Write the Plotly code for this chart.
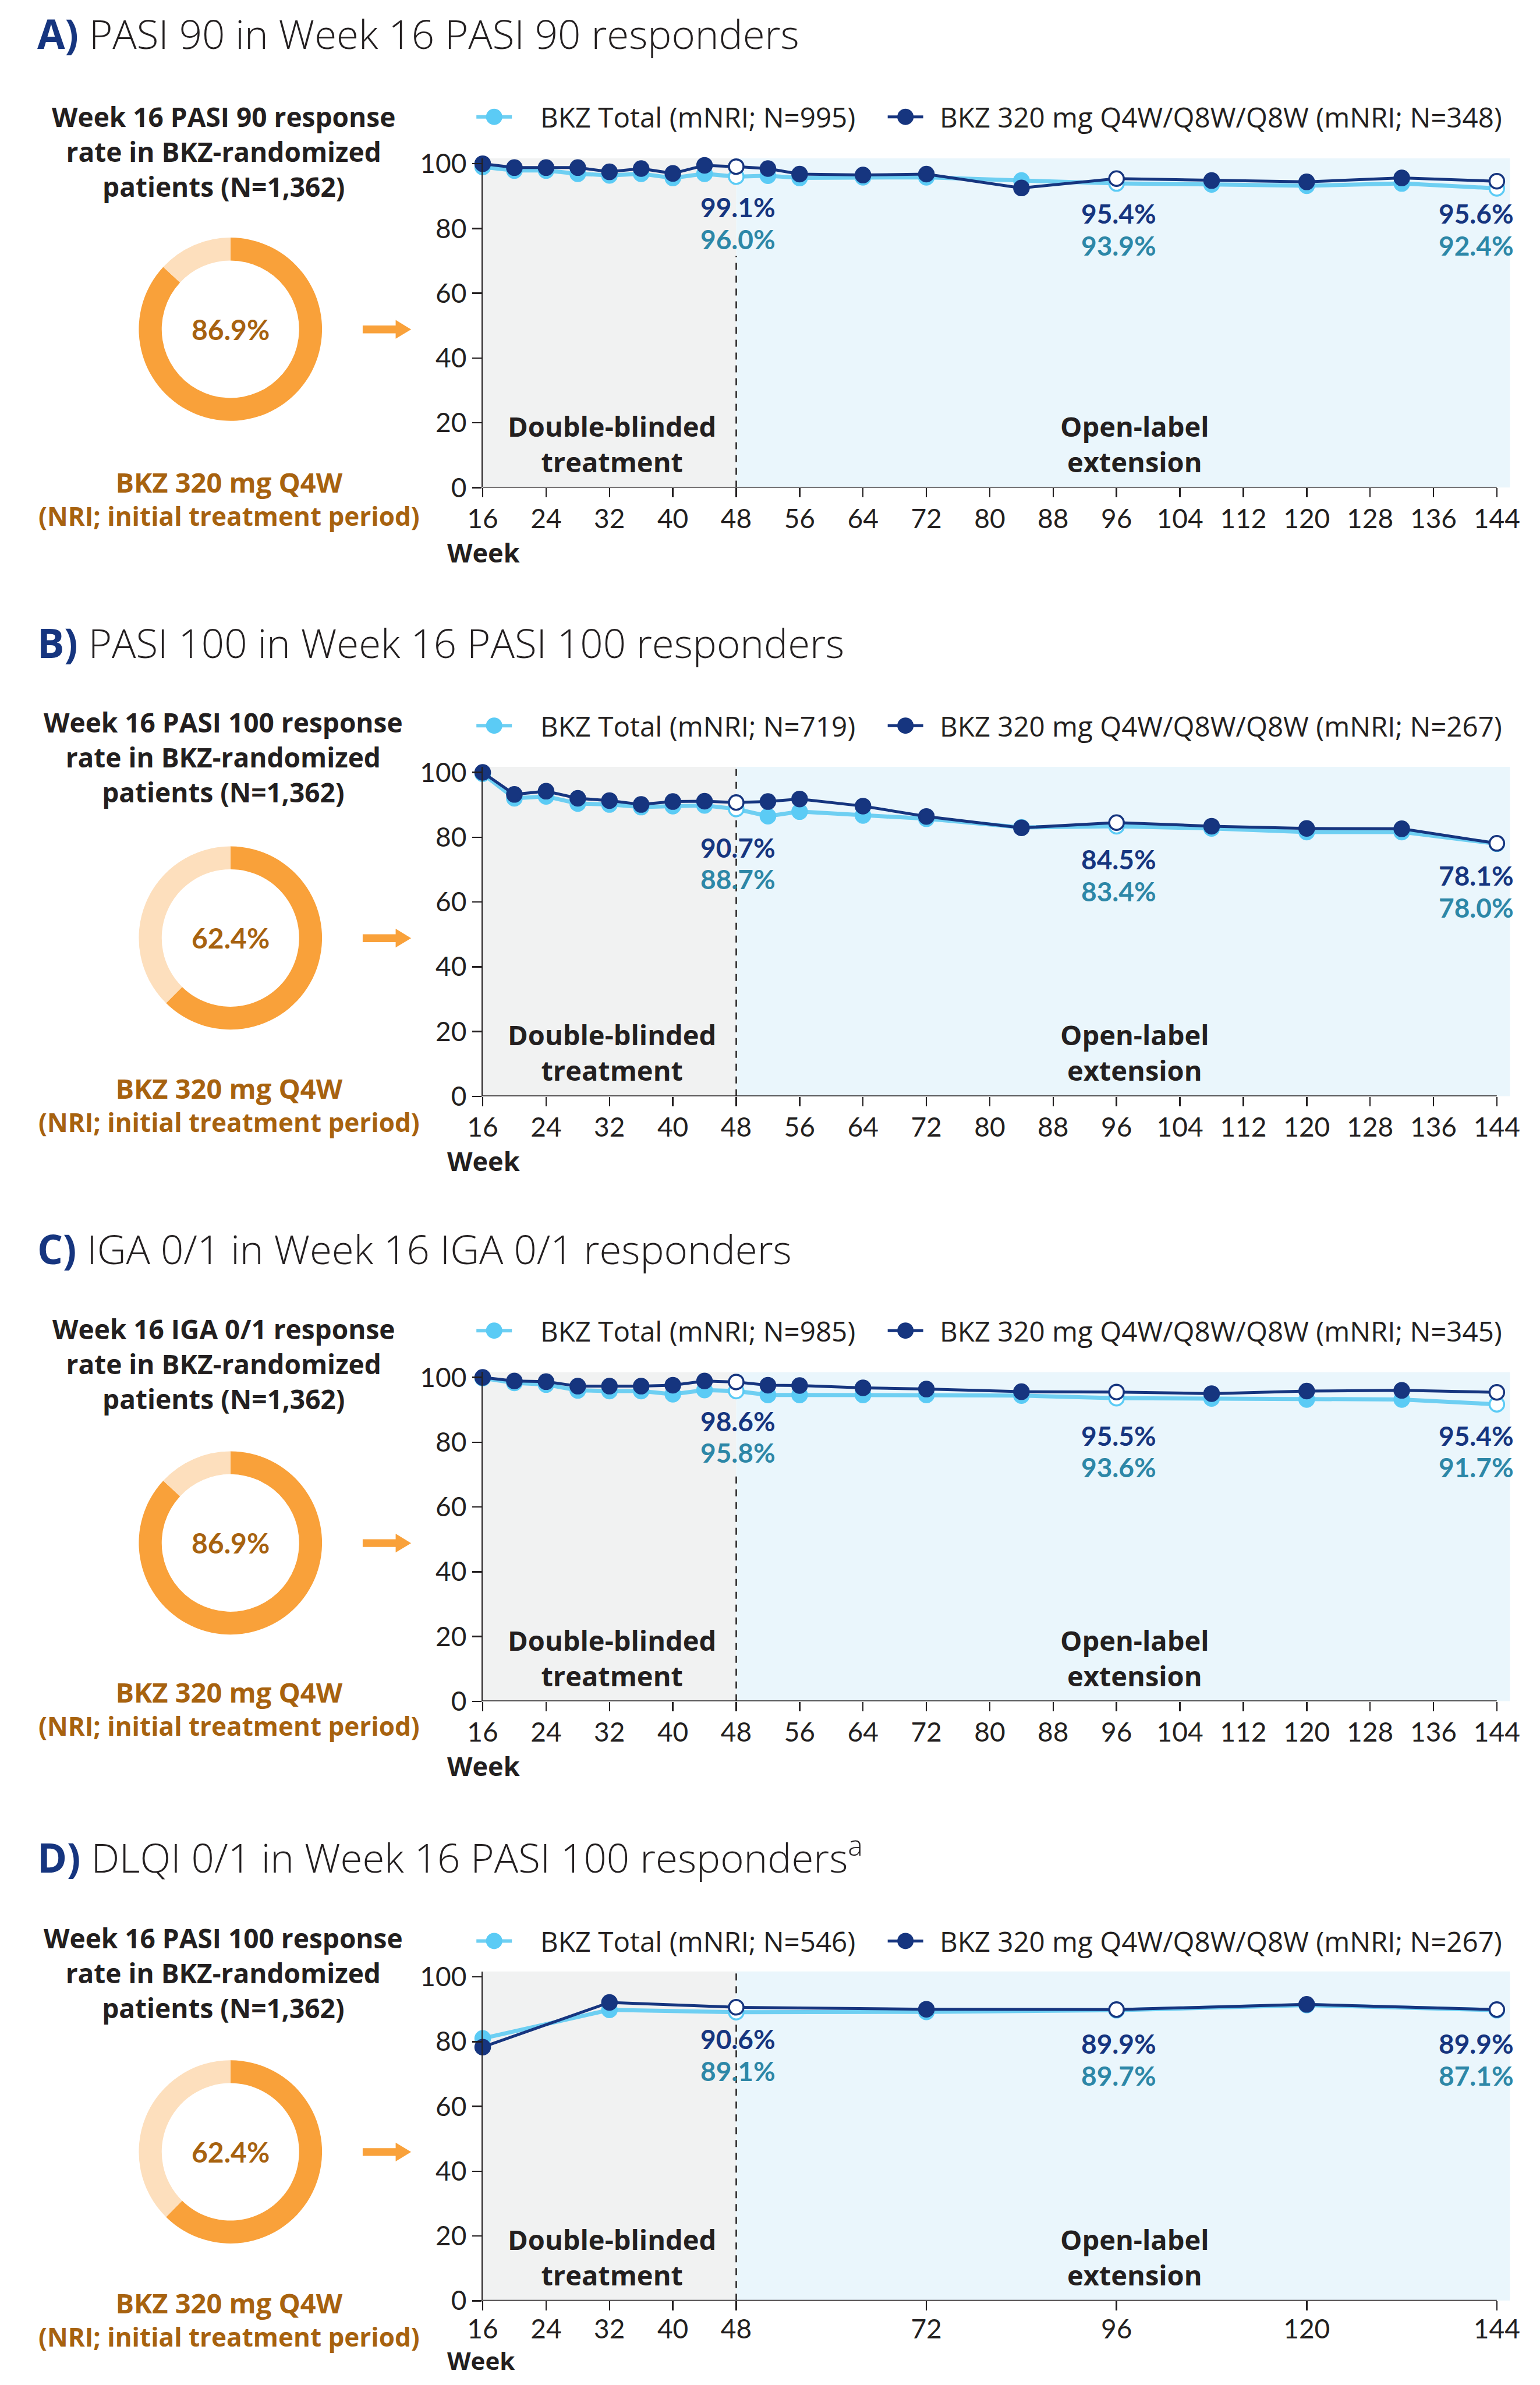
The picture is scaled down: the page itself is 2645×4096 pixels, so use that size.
import plotly.graph_objects as go

# ---------------- data ----------------
weeks_main = [16, 20, 24, 28, 32, 36, 40, 44, 48, 52, 56, 64, 72, 84, 96, 108, 120, 132, 144]
weeks_dlqi = [16, 32, 48, 72, 96, 120, 144]
ticks_main = [16, 24, 32, 40, 48, 56, 64, 72, 80, 88, 96, 104, 112, 120, 128, 136, 144]
ticks_dlqi = [16, 24, 32, 40, 48, 72, 96, 120, 144]
label_weeks = [48, 96, 144]

a_total = [99.0, 97.9, 97.9, 96.9, 96.4, 96.9, 95.6, 96.9, 96.0, 96.3, 95.6, 95.8, 95.8, 94.8, 93.9, 93.6, 93.2, 93.9, 92.4]
a_q4w = [100, 98.8, 98.8, 98.8, 97.5, 98.5, 97.0, 99.5, 99.1, 98.5, 96.8, 96.5, 96.8, 92.5, 95.4, 94.8, 94.4, 95.6, 94.6]
b_total = [99.6, 92.0, 92.6, 90.4, 90.1, 89.3, 89.6, 89.8, 88.7, 86.5, 87.9, 86.7, 85.7, 83.0, 83.4, 82.7, 81.6, 81.6, 78.0]
b_q4w = [100, 93.2, 94.2, 92.0, 91.3, 90.1, 91.0, 91.1, 90.7, 91.0, 91.8, 89.6, 86.4, 82.9, 84.5, 83.4, 82.7, 82.6, 78.1]
c_total = [99.8, 98.3, 97.8, 96.0, 95.8, 95.8, 94.8, 96.1, 95.8, 94.6, 94.6, 94.6, 94.6, 94.4, 93.6, 93.5, 93.2, 93.2, 91.7]
c_q4w = [100, 98.9, 98.7, 97.3, 97.3, 97.3, 97.6, 98.9, 98.6, 97.6, 97.5, 96.8, 96.4, 95.6, 95.5, 95.0, 95.8, 96.0, 95.4]
d_total = [81.0, 89.8, 89.1, 89.2, 89.7, 91.3, 89.7]
d_q4w = [78.3, 92.1, 90.6, 90.0, 89.9, 91.5, 89.9]

a_lbl_q4w = ["99.1%", "95.4%", "95.6%"]
a_lbl_total = ["96.0%", "93.9%", "92.4%"]
b_lbl_q4w = ["90.7%", "84.5%", "78.1%"]
b_lbl_total = ["88.7%", "83.4%", "78.0%"]
c_lbl_q4w = ["98.6%", "95.5%", "95.4%"]
c_lbl_total = ["95.8%", "93.6%", "91.7%"]
d_lbl_q4w = ["90.6%", "89.9%", "89.9%"]
d_lbl_total = ["89.1%", "89.7%", "87.1%"]

donut_pct = [86.9, 62.4, 86.9, 62.4]
titles = [
    "PASI 90 in Week 16 PASI 90 responders",
    "PASI 100 in Week 16 PASI 100 responders",
    "IGA 0/1 in Week 16 IGA 0/1 responders",
    "DLQI 0/1 in Week 16 PASI 100 responders<sup>a</sup>",
]
letters = ["A)", "B)", "C)", "D)"]
headers = [
    "Week 16 PASI 90 response<br>rate in BKZ-randomized<br>patients (N=1,362)",
    "Week 16 PASI 100 response<br>rate in BKZ-randomized<br>patients (N=1,362)",
    "Week 16 IGA 0/1 response<br>rate in BKZ-randomized<br>patients (N=1,362)",
    "Week 16 PASI 100 response<br>rate in BKZ-randomized<br>patients (N=1,362)",
]
n_total = [995, 719, 985, 546]
n_q4w = [348, 267, 345, 267]

# ---------------- style / layout constants ----------------
W, H = 2645, 4096
FONT = "Open Sans"
NUMFONT = "Lato"
NAVY = "#16357F"
LIGHT_LINE = "#6ECFF2"
LIGHT_MK = "#5BCBF5"
TEAL = "#2D87A7"
DARK = "#231F20"
ORANGE = "#F9A13A"
PEACH = "#FDDFBD"
BROWN = "#A7620F"
GRAY_BG = "#F1F2F2"
BLUE_BG = "#EAF6FC"

# vertical anchors per panel (pixels from top)
Y0 = [827.5, 1884.5, 2935.1, 3976.0]          # y = 0 line
TITLE_Y = [38.9, 1095.9, 2149.1, 3201.2]
LEGEND_Y = [183.7, 1240.8, 2291.3, 3351.2]
HEADER_Y = [243.3, 1295.2, 2348.3, 3406.9]
DONUT_Y = [552.5, 1609.6, 2660.1, 3717.4]
CAPTION_Y = [846.7, 1898.5, 2947.8, 4007.6]
WEEK_Y = [939.5, 1996.5, 3047.1, 4079.0]
WEEK_SIZE = [45, 45, 45, 42]
TICK_STANDOFF = [-3, -3, -3, -8]
PLOT_H = 572
XL, XR = 815.6, 2610.0
X_RANGE = [16, 145.67]
Y_RANGE = [0, 101.7]

lbl_y_q4w = [[86.6, 84.6, 84.6], [76.9, 73.2, 68.2], [86.6, 82.1, 82.1], [80.8, 79.4, 79.4]]
LBL_GAP = 9.85
lbl_x = [48.2, 96.3]
dash_top = [71.5, 101.7, 71.0, 101.7]


def px(x):
    return x / W


def py(y):
    return 1 - y / H


panels = [
    dict(weeks=weeks_main, ticks=ticks_main, total=a_total, q4w=a_q4w, lt=a_lbl_total, lq=a_lbl_q4w),
    dict(weeks=weeks_main, ticks=ticks_main, total=b_total, q4w=b_q4w, lt=b_lbl_total, lq=b_lbl_q4w),
    dict(weeks=weeks_main, ticks=ticks_main, total=c_total, q4w=c_q4w, lt=c_lbl_total, lq=c_lbl_q4w),
    dict(weeks=weeks_dlqi, ticks=ticks_dlqi, total=d_total, q4w=d_q4w, lt=d_lbl_total, lq=d_lbl_q4w),
]

fig = go.Figure()
annotations = []
shapes = []
layout_axes = {}

for i, p in enumerate(panels):
    k = i + 1
    xa = "x" if k == 1 else f"x{k}"
    ya = "y" if k == 1 else f"y{k}"

    # axes
    layout_axes["xaxis" if k == 1 else f"xaxis{k}"] = dict(
        domain=[px(XL), px(XR)], range=X_RANGE, anchor=ya,
        tickmode="array", tickvals=p["ticks"], ticktext=[str(t) for t in p["ticks"]],
        ticks="outside", ticklen=16, tickwidth=2.5, tickcolor=DARK,
        showline=False, showgrid=False, zeroline=False,
        tickfont=dict(family=NUMFONT, size=46, color=DARK), ticklabelstandoff=TICK_STANDOFF[i],
        fixedrange=True,
    )
    layout_axes["yaxis" if k == 1 else f"yaxis{k}"] = dict(
        domain=[py(Y0[i]), py(Y0[i] - PLOT_H)], range=Y_RANGE, anchor=xa,
        tickmode="array", tickvals=[0, 20, 40, 60, 80, 100],
        ticks="outside", ticklen=16, tickwidth=2.5, tickcolor=DARK,
        showline=True, linecolor=DARK, linewidth=2.5,
        showgrid=False, zeroline=False,
        tickfont=dict(family=NUMFONT, size=46, color=DARK), ticklabelstandoff=0,
        fixedrange=True,
    )

    # background periods, dashed divider, x axis line
    shapes.append(dict(type="rect", xref=xa, yref=ya, x0=16, x1=48, y0=0, y1=Y_RANGE[1],
                       fillcolor=GRAY_BG, line_width=0, layer="below"))
    shapes.append(dict(type="rect", xref=xa, yref=ya, x0=48, x1=X_RANGE[1], y0=0, y1=Y_RANGE[1],
                       fillcolor=BLUE_BG, line_width=0, layer="below"))
    shapes.append(dict(type="line", xref=xa, yref=ya, x0=48, x1=48, y0=0, y1=dash_top[i],
                       line=dict(color=DARK, width=2.5, dash="12px,10px"), layer="below"))
    shapes.append(dict(type="line", xref=xa, yref=ya, x0=16, x1=144, y0=0, y1=0,
                       line=dict(color=DARK, width=3), layer="above"))

    # traces
    open_mask = [w in label_weeks for w in p["weeks"]]
    fig.add_trace(go.Scatter(
        x=p["weeks"], y=p["total"], mode="lines+markers",
        line=dict(color=LIGHT_LINE, width=7),
        marker=dict(size=25, color=["white" if o else LIGHT_MK for o in open_mask],
                    line=dict(color=LIGHT_MK, width=3.5)),
        cliponaxis=False, xaxis=xa, yaxis=ya, showlegend=False, hoverinfo="skip"))
    fig.add_trace(go.Scatter(
        x=p["weeks"], y=p["q4w"], mode="lines+markers",
        line=dict(color=NAVY, width=5),
        marker=dict(size=25, color=["white" if o else NAVY for o in open_mask],
                    line=dict(color=NAVY, width=3.5)),
        cliponaxis=False, xaxis=xa, yaxis=ya, showlegend=False, hoverinfo="skip"))

    # value labels
    for j in range(3):
        yq = lbl_y_q4w[i][j]
        yt = yq - LBL_GAP
        if j < 2:
            pos = dict(xref=xa, x=lbl_x[j], xanchor="center")
        else:
            pos = dict(xref=f"{xa} domain", x=1.0, xanchor="right", xshift=8)
        annotations.append(dict(yref=ya, y=yq, yanchor="middle", showarrow=False,
                                text=f"<b>{p['lq'][j]}</b>",
                                font=dict(family=NUMFONT, size=46, color=NAVY), **pos))
        annotations.append(dict(yref=ya, y=yt, yanchor="middle", showarrow=False,
                                text=f"<b>{p['lt'][j]}</b>",
                                font=dict(family=NUMFONT, size=46, color=TEAL), **pos))

    # period labels
    for txt, xx in [("Double-blinded<br>treatment", 32.3), ("Open-label<br>extension", 98.3)]:
        annotations.append(dict(xref=xa, yref=ya, x=xx, y=13.45, xanchor="center", yanchor="middle",
                                showarrow=False, align="center", text=f"<b>{txt}</b>",
                                font=dict(family=FONT, size=47, color=DARK)))

    # Week axis title
    annotations.append(dict(xref="paper", yref="paper", x=px(751), y=py(WEEK_Y[i]), xanchor="left",
                            yanchor="middle", showarrow=False, text="<b>Week</b>",
                            font=dict(family=FONT, size=WEEK_SIZE[i], color=DARK)))

    # panel title
    annotations.append(dict(xref="paper", yref="paper", x=px(36), y=py(TITLE_Y[i]), xanchor="left",
                            yanchor="middle", showarrow=False,
                            text=f"<span style='color:{NAVY}'><b>{letters[i]}</b></span> {titles[i]}",
                            font=dict(family=FONT, size=69, color=DARK, weight=300)))

    # legend (drawn)
    ly = LEGEND_Y[i]
    shapes.append(dict(type="line", xref="paper", yref="paper", x0=px(804.6), x1=px(866.6),
                       y0=py(ly), y1=py(ly), line=dict(color=LIGHT_LINE, width=6)))
    shapes.append(dict(type="circle", xref="paper", yref="paper", xsizemode="pixel", ysizemode="pixel",
                       xanchor=px(835.6), yanchor=py(ly), x0=-14, x1=14, y0=-14, y1=14,
                       fillcolor=LIGHT_MK, line_width=0))
    shapes.append(dict(type="line", xref="paper", yref="paper", x0=px(1523), x1=px(1585),
                       y0=py(ly), y1=py(ly), line=dict(color=NAVY, width=5)))
    shapes.append(dict(type="circle", xref="paper", yref="paper", xsizemode="pixel", ysizemode="pixel",
                       xanchor=px(1554), yanchor=py(ly), x0=-14, x1=14, y0=-14, y1=14,
                       fillcolor=NAVY, line_width=0))
    annotations.append(dict(xref="paper", yref="paper", x=px(914.5), y=py(ly), xanchor="left",
                            yanchor="middle", showarrow=False,
                            text=f"BKZ Total (mNRI; N={n_total[i]})",
                            font=dict(family=FONT, size=47.5, color=DARK)))
    annotations.append(dict(xref="paper", yref="paper", x=px(1612), y=py(ly), xanchor="left",
                            yanchor="middle", showarrow=False,
                            text=f"BKZ 320 mg Q4W/Q8W/Q8W (mNRI; N={n_q4w[i]})",
                            font=dict(family=FONT, size=47.5, color=DARK)))

    # left column: header, donut, caption, arrow
    annotations.append(dict(xref="paper", yref="paper", x=px(363), y=py(HEADER_Y[i]), xanchor="center",
                            yanchor="middle", showarrow=False, align="center",
                            text=f"<b>{headers[i]}</b>",
                            font=dict(family=FONT, size=46, color=DARK)))
    cx, cy, r = 375.0, DONUT_Y[i], 160.0
    fig.add_trace(go.Pie(
        values=[donut_pct[i], round(100 - donut_pct[i], 1)], sort=False, direction="clockwise",
        rotation=0, hole=0.75, textinfo="none", hoverinfo="skip", showlegend=False,
        marker=dict(colors=[ORANGE, PEACH], line=dict(width=0)),
        domain=dict(x=[px(cx - r), px(cx + r)], y=[py(cy + r), py(cy - r)])))
    annotations.append(dict(xref="paper", yref="paper", x=px(cx), y=py(cy), xanchor="center",
                            yanchor="middle", showarrow=False, text=f"<b>{donut_pct[i]:.1f}%</b>",
                            font=dict(family=NUMFONT, size=48, color=BROWN)))
    annotations.append(dict(xref="paper", yref="paper", x=px(373), y=py(CAPTION_Y[i]), xanchor="center",
                            yanchor="middle", showarrow=False, align="center",
                            text="<b><span style='font-size:47px'>BKZ 320 mg Q4W</span>"
                                 "<br>(NRI; initial treatment period)</b>",
                            font=dict(family=FONT, size=44, color=BROWN)))
    ay = cy + 0.3
    pts = [(606, ay - 6.75), (663.6, ay - 6.75), (663.6, ay - 16.3), (690.6, ay),
           (663.6, ay + 16.3), (663.6, ay + 6.75), (606, ay + 6.75)]
    path = "M " + " L ".join(f"{px(a):.5f},{py(b):.5f}" for a, b in pts) + " Z"
    shapes.append(dict(type="path", xref="paper", yref="paper", path=path,
                       fillcolor=ORANGE, line_width=0))

fig.update_layout(
    width=W, height=H, margin=dict(l=0, r=0, t=0, b=0),
    paper_bgcolor="white", plot_bgcolor="white",
    showlegend=False, hovermode=False,
    annotations=annotations, shapes=shapes,
    font=dict(family=FONT, color=DARK),
    **layout_axes,
)

fig.write_html("out.html", config={"displayModeBar": False, "staticPlot": True},
               post_script="document.body.style.margin='0';")
